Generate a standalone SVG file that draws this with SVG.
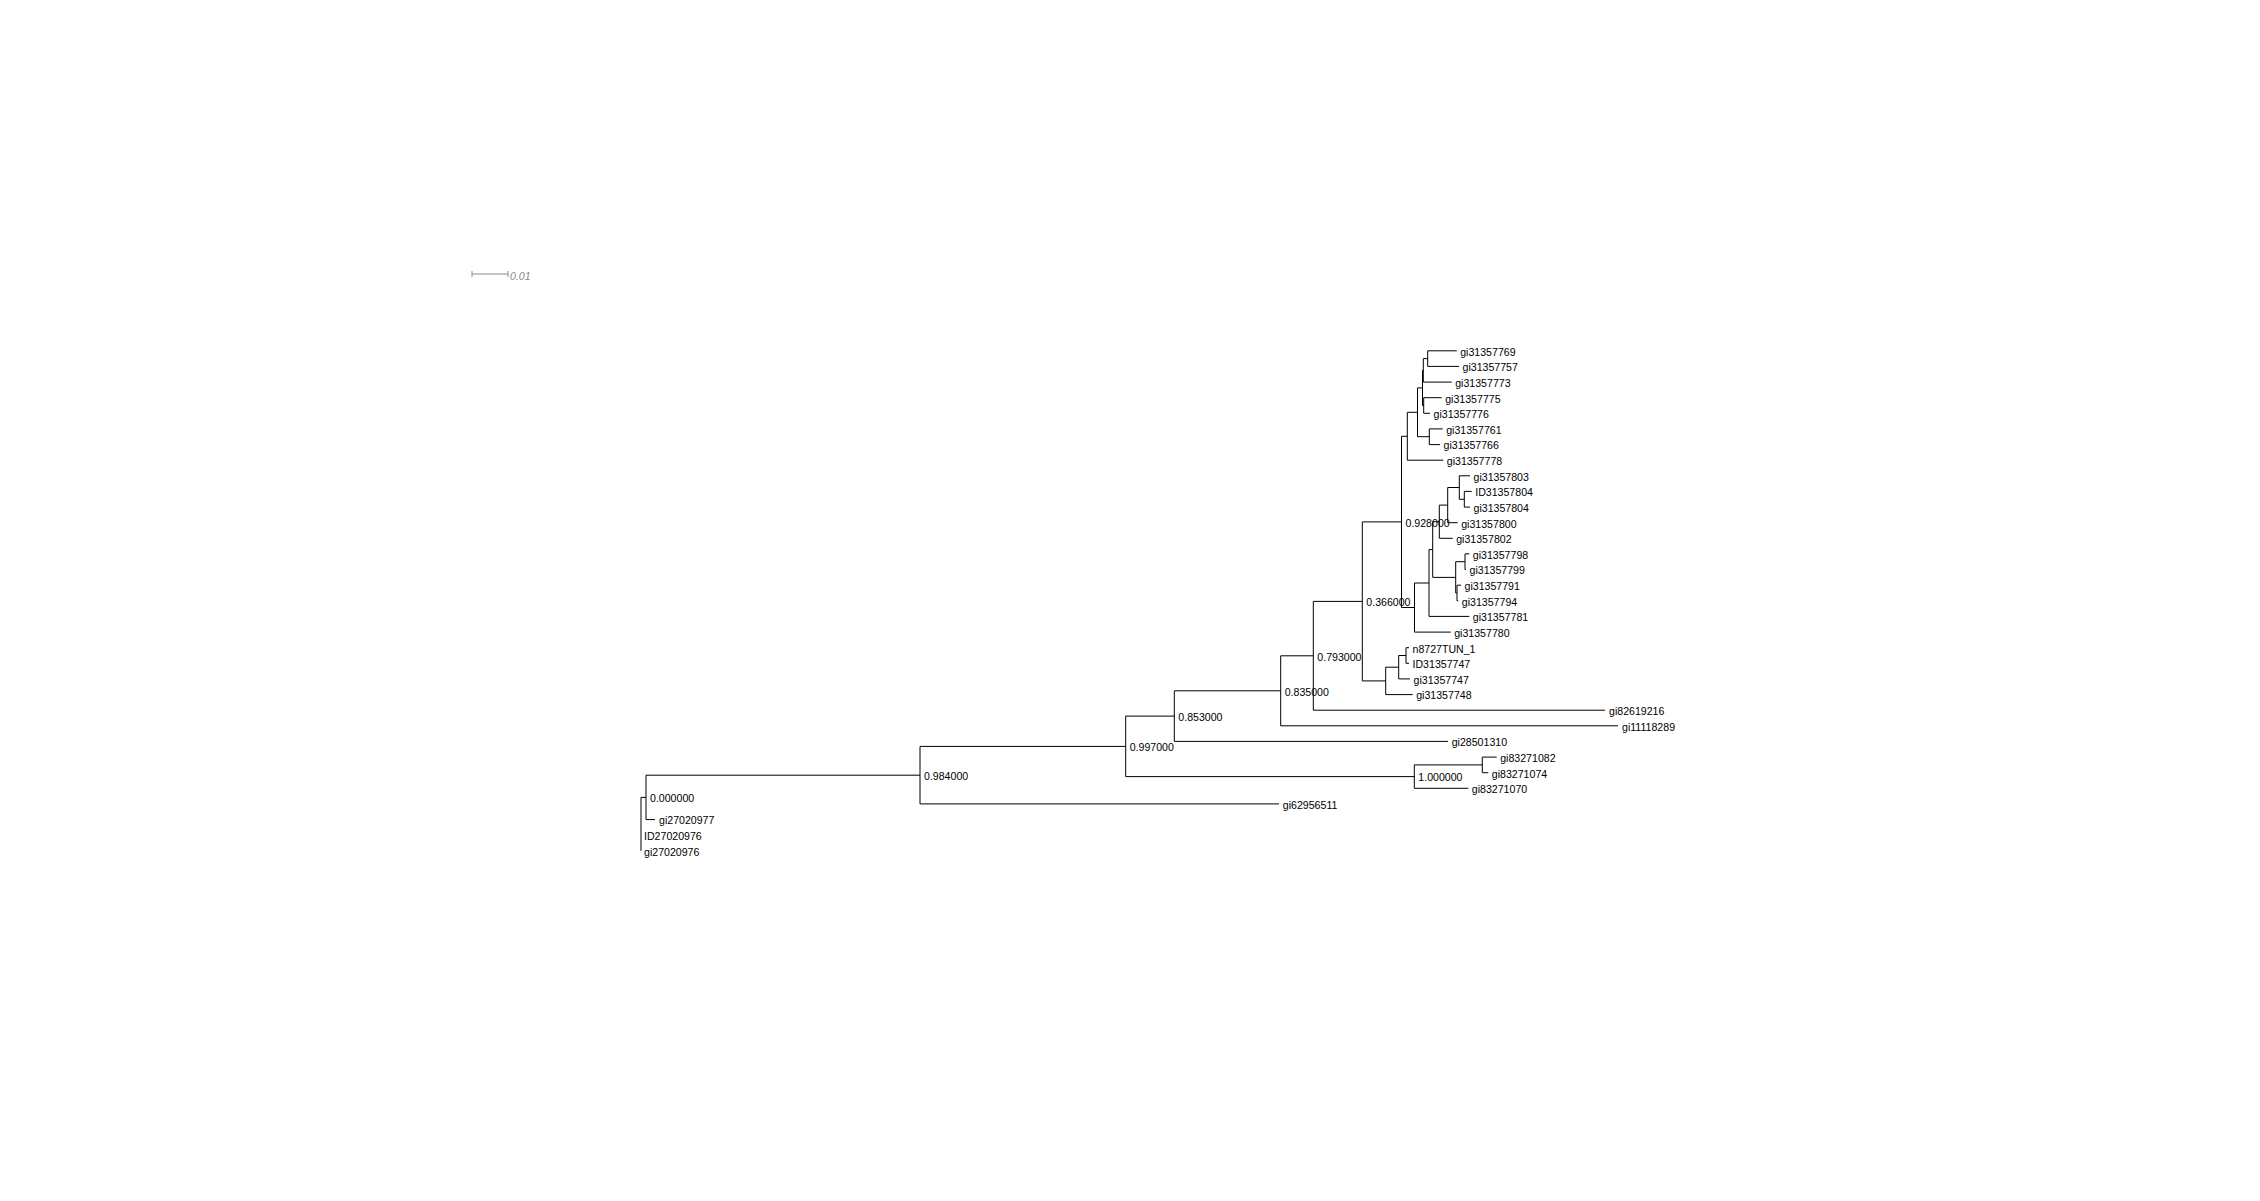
<svg xmlns="http://www.w3.org/2000/svg" width="2260" height="1201" viewBox="0 0 2260 1201">
<style>
.br{fill:none;stroke:#000;stroke-width:1}
.t{font-family:"Liberation Sans",Arial,sans-serif;font-size:10.6px;fill:#000}
.sb{fill:none;stroke:#8a8a8a;stroke-width:1}
.sbt{font-family:"Liberation Sans",Arial,sans-serif;font-size:10.6px;font-style:italic;fill:#8a8a8a}
</style>
<rect width="2260" height="1201" fill="#fff"/>
<g id="scale-bar">
<path class="sb" d="M472,274 H508 M472,271 V277 M508,271 V277"/>
<text class="sbt" x="510" y="279.5">0.01</text>
</g>
<g id="connectors">
<path class="br" d="M641,797.4 V850.8 M641,797.4 H646"/>
<path class="br" d="M646,775.2 V819.6 M646,775.2 H920 M646,819.6 H655"/>
<path class="br" d="M920,746.4 V803.9 M920,746.4 H1125.7 M920,803.9 H1279"/>
<path class="br" d="M1125.7,716.1 V776.6 M1125.7,716.1 H1174.3 M1125.7,776.6 H1414.3"/>
<path class="br" d="M1174.3,690.8 V741.4 M1174.3,690.8 H1280.7 M1174.3,741.4 H1448"/>
<path class="br" d="M1280.7,655.8 V725.8 M1280.7,655.8 H1313.3 M1280.7,725.8 H1618"/>
<path class="br" d="M1313.3,601.4 V710.2 M1313.3,601.4 H1362.3 M1313.3,710.2 H1605"/>
<path class="br" d="M1362.3,521.9 V680.9 M1362.3,521.9 H1401.5 M1362.3,680.9 H1385.7"/>
<path class="br" d="M1385.7,667.2 V694.6 M1385.7,667.2 H1398.7 M1385.7,694.6 H1412.7"/>
<path class="br" d="M1398.7,655.5 V678.9 M1398.7,655.5 H1406 M1398.7,678.9 H1410"/>
<path class="br" d="M1406,647.7 V663.3 M1406,647.7 H1409 M1406,663.3 H1409"/>
<path class="br" d="M1401.5,436.3 V607.5 M1401.5,436.3 H1407.3 M1401.5,607.5 H1414.5"/>
<path class="br" d="M1407.3,412.3 V460.2 M1407.3,412.3 H1417.5 M1407.3,460.2 H1443.3"/>
<path class="br" d="M1417.5,387.9 V436.7 M1417.5,387.9 H1422.5 M1417.5,436.7 H1429.3"/>
<path class="br" d="M1422.5,370.3 V405.5 M1422.5,370.3 H1423.3 M1422.5,405.5 H1423.7"/>
<path class="br" d="M1423.3,358.6 V382.1 M1423.3,358.6 H1427.7 M1423.3,382.1 H1451.7"/>
<path class="br" d="M1427.7,350.8 V366.4 M1427.7,350.8 H1456.7 M1427.7,366.4 H1459"/>
<path class="br" d="M1423.7,397.7 V413.3 M1423.7,397.7 H1441.7 M1423.7,413.3 H1430"/>
<path class="br" d="M1429.3,428.9 V444.6 M1429.3,428.9 H1442.7 M1429.3,444.6 H1440"/>
<path class="br" d="M1414.5,583 V632.1 M1414.5,583 H1429 M1414.5,632.1 H1450.7"/>
<path class="br" d="M1429,549.6 V616.4 M1429,549.6 H1432.7 M1429,616.4 H1469.3"/>
<path class="br" d="M1432.7,521.7 V577.4 M1432.7,521.7 H1439.3 M1432.7,577.4 H1455.7"/>
<path class="br" d="M1439.3,505.1 V538.3 M1439.3,505.1 H1447.7 M1439.3,538.3 H1452.7"/>
<path class="br" d="M1447.7,487.5 V522.7 M1447.7,487.5 H1459.3 M1447.7,522.7 H1457.7"/>
<path class="br" d="M1459.3,475.8 V499.3 M1459.3,475.8 H1470 M1459.3,499.3 H1464.3"/>
<path class="br" d="M1464.3,491.4 V507.1 M1464.3,491.4 H1471.7 M1464.3,507.1 H1470"/>
<path class="br" d="M1455.7,561.7 V593 M1455.7,561.7 H1465 M1455.7,593 H1457"/>
<path class="br" d="M1465,553.9 V569.6 M1465,553.9 H1469.3 M1465,569.6 H1466"/>
<path class="br" d="M1457,585.2 V600.8 M1457,585.2 H1461 M1457,600.8 H1458.3"/>
<path class="br" d="M1414.3,764.9 V788.3 M1414.3,764.9 H1482.3 M1414.3,788.3 H1468.3"/>
<path class="br" d="M1482.3,757.1 V772.7 M1482.3,757.1 H1496.7 M1482.3,772.7 H1488.3"/>
</g>
<g id="tip-gi31357769"><text class="t" x="1460.2" y="355.6">gi31357769</text></g>
<g id="tip-gi31357757"><text class="t" x="1462.5" y="371.2">gi31357757</text></g>
<g id="tip-gi31357773"><text class="t" x="1455.2" y="386.9">gi31357773</text></g>
<g id="tip-gi31357775"><text class="t" x="1445.2" y="402.5">gi31357775</text></g>
<g id="tip-gi31357776"><text class="t" x="1433.5" y="418.1">gi31357776</text></g>
<g id="tip-gi31357761"><text class="t" x="1446.2" y="433.7">gi31357761</text></g>
<g id="tip-gi31357766"><text class="t" x="1443.5" y="449.4">gi31357766</text></g>
<g id="tip-gi31357778"><text class="t" x="1446.8" y="465">gi31357778</text></g>
<g id="tip-gi31357803"><text class="t" x="1473.5" y="480.6">gi31357803</text></g>
<g id="tip-ID31357804"><text class="t" x="1475.2" y="496.2">ID31357804</text></g>
<g id="tip-gi31357804"><text class="t" x="1473.5" y="511.9">gi31357804</text></g>
<g id="tip-gi31357800"><text class="t" x="1461.2" y="527.5">gi31357800</text></g>
<g id="tip-gi31357802"><text class="t" x="1456.2" y="543.1">gi31357802</text></g>
<g id="tip-gi31357798"><text class="t" x="1472.8" y="558.7">gi31357798</text></g>
<g id="tip-gi31357799"><text class="t" x="1469.5" y="574.4">gi31357799</text></g>
<g id="tip-gi31357791"><text class="t" x="1464.5" y="590">gi31357791</text></g>
<g id="tip-gi31357794"><text class="t" x="1461.8" y="605.6">gi31357794</text></g>
<g id="tip-gi31357781"><text class="t" x="1472.8" y="621.2">gi31357781</text></g>
<g id="tip-gi31357780"><text class="t" x="1454.2" y="636.9">gi31357780</text></g>
<g id="tip-n8727TUN_1"><text class="t" x="1412.5" y="652.5">n8727TUN_1</text></g>
<g id="tip-ID31357747"><text class="t" x="1412.5" y="668.1">ID31357747</text></g>
<g id="tip-gi31357747"><text class="t" x="1413.5" y="683.7">gi31357747</text></g>
<g id="tip-gi31357748"><text class="t" x="1416.2" y="699.4">gi31357748</text></g>
<g id="tip-gi82619216"><text class="t" x="1609" y="715">gi82619216</text></g>
<g id="tip-gi11118289"><text class="t" x="1622" y="730.6">gi11118289</text></g>
<g id="tip-gi28501310"><text class="t" x="1451.7" y="746.2">gi28501310</text></g>
<g id="tip-gi83271082"><text class="t" x="1500.2" y="761.9">gi83271082</text></g>
<g id="tip-gi83271074"><text class="t" x="1491.8" y="777.5">gi83271074</text></g>
<g id="tip-gi83271070"><text class="t" x="1471.8" y="793.1">gi83271070</text></g>
<g id="tip-gi62956511"><text class="t" x="1282.8" y="808.7">gi62956511</text></g>
<g id="tip-gi27020977"><text class="t" x="659" y="824.4">gi27020977</text></g>
<g id="tip-ID27020976"><text class="t" x="644" y="840">ID27020976</text></g>
<g id="tip-gi27020976"><text class="t" x="644" y="855.6">gi27020976</text></g>
<g id="node-0.000000"><text class="t" x="650" y="802.2">0.000000</text></g>
<g id="node-0.984000"><text class="t" x="924" y="780">0.984000</text></g>
<g id="node-0.997000"><text class="t" x="1129.7" y="751.2">0.997000</text></g>
<g id="node-0.853000"><text class="t" x="1178.3" y="720.9">0.853000</text></g>
<g id="node-0.835000"><text class="t" x="1284.7" y="695.6">0.835000</text></g>
<g id="node-0.793000"><text class="t" x="1317.3" y="660.6">0.793000</text></g>
<g id="node-0.366000"><text class="t" x="1366.3" y="606.2">0.366000</text></g>
<g id="node-0.928000"><text class="t" x="1405.5" y="526.7">0.928000</text></g>
<g id="node-1.000000"><text class="t" x="1418.3" y="781.4">1.000000</text></g>
</svg>
